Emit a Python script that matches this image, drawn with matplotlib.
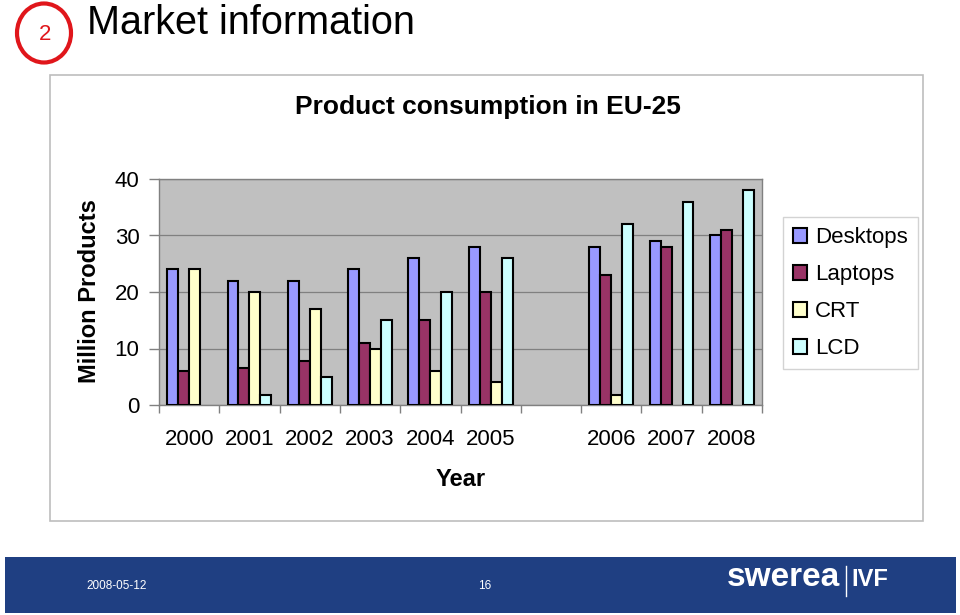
import numpy as np
import matplotlib
matplotlib.use("Agg")
import matplotlib.pyplot as plt
from matplotlib.patches import Rectangle, Ellipse

# ---- data ----
years = ["2000", "2001", "2002", "2003", "2004", "2005", "", "2006", "2007", "2008"]
desktops = [24, 22, 22, 24, 26, 28, np.nan, 28, 29, 30]
laptops = [6, 6.6, 7.8, 11, 15, 20, np.nan, 23, 28, 31]
crt = [24, 20, 17, 10, 6, 4, np.nan, 1.8, np.nan, np.nan]
lcd = [np.nan, 1.8, 5, 15, 20, 26, np.nan, 32, 36, 38]
series_names = ["Desktops", "Laptops", "CRT", "LCD"]
series_colors = ["#9999FF", "#993366", "#FFFFCC", "#CCFFFF"]
yticks = [0, 10, 20, 30, 40]

plt.rcParams['font.family'] = ['Liberation Sans', 'DejaVu Sans']

W, H = 960, 615
fig = plt.figure(figsize=(W / 100, H / 100), dpi=100)

def fx(px):
    return px / W

def fy(py):
    return 1 - py / H

# chart box
fig.patches.append(Rectangle((fx(50), fy(521)), fx(923) - fx(50), fy(75) - fy(521),
                             transform=fig.transFigure, fill=False,
                             edgecolor="#BDBDBD", linewidth=1.2, zorder=0))

# footer band
fig.patches.append(Rectangle((fx(5), fy(613)), fx(956) - fx(5), fy(557) - fy(613),
                             transform=fig.transFigure, facecolor="#1F3F82",
                             edgecolor="none", zorder=0))
fig.text(fx(117), fy(586), "2008-05-12", color="white", fontsize=8.5,
         ha="center", va="center")
fig.text(fx(485), fy(586), "16", color="white", fontsize=8.5,
         ha="center", va="center")
fig.text(fx(840), fy(577), "swerea", color="white", fontsize=24, fontweight="bold",
         ha="right", va="center")
fig.lines.append(plt.Line2D([fx(846), fx(846)], [fy(566), fy(596)],
                            transform=fig.transFigure, color="white", lw=1))
fig.text(fx(851), fy(580), "IVF", color="white", fontsize=17, fontweight="bold",
         ha="left", va="center")

# slide header
fig.patches.append(Ellipse((fx(44), fy(33)), fx(54), fy(3) - fy(62),
                           transform=fig.transFigure, fill=False,
                           edgecolor="#E0161B", linewidth=3))
fig.text(fx(45), fy(34), "2", color="#E0161B", fontsize=16, ha="center", va="center")
fig.text(fx(87), fy(23), "Market information", fontsize=28.5, ha="left", va="center")

# chart title
fig.text(fx(488), fy(107), "Product consumption in EU-25", fontsize=19,
         fontweight="bold", ha="center", va="center")

# axes
L, R, T, B = 159, 762, 179, 405
ax = fig.add_axes([fx(L), fy(B), fx(R) - fx(L), fy(T) - fy(B)])
ax.set_facecolor("#C0C0C0")

x = np.arange(len(years))
w = 1 / 5.5
all_series = [desktops, laptops, crt, lcd]
handles = []
for i, (vals, name, col) in enumerate(zip(all_series, series_names, series_colors)):
    b = ax.bar(x + (i - 1.5) * w, vals, width=w, color=col, edgecolor="black",
               linewidth=1.5, label=name, zorder=3)
    handles.append(b)

ax.set_xlim(-0.5, len(years) - 0.5)
ax.set_ylim(0, 40)
ax.set_yticks(yticks)
ax.set_yticklabels([str(v) for v in yticks])
ax.grid(axis="y", color="#808080", linewidth=0.9, zorder=1)
ax.set_axisbelow(True)

ax.set_xticks(x)
ax.set_xticklabels(years)
ax.set_xticks(np.arange(-0.5, len(years), 1.0), minor=True)
ax.tick_params(axis="x", which="major", length=0, pad=17, labelsize=16)
ax.tick_params(axis="x", which="minor", length=6, color="#808080", width=1)
ax.tick_params(axis="y", length=7, color="#808080", width=1, pad=7, labelsize=16)

for s in ax.spines.values():
    s.set_color("#808080")
    s.set_linewidth(1)

ax.set_ylabel("Million Products", fontsize=17, fontweight="bold")
ax.yaxis.set_label_coords((101 - L) / (R - L), (B - 291) / (B - T))
ax.set_xlabel("Year", fontsize=17, fontweight="bold")
ax.xaxis.set_label_coords((461 - L) / (R - L), (B - 468) / (B - T))

leg = fig.legend(handles=handles, labels=series_names, loc="upper left",
                 bbox_to_anchor=(fx(783), fy(217)), bbox_transform=fig.transFigure,
                 fontsize=16, frameon=True, fancybox=False, edgecolor="#C8C8C8",
                 handlelength=0.65, handleheight=0.65, handletextpad=0.35,
                 labelspacing=0.72, borderpad=0.45, borderaxespad=0)
leg.get_frame().set_linewidth(1)

fig.savefig("out.png", dpi=100)
